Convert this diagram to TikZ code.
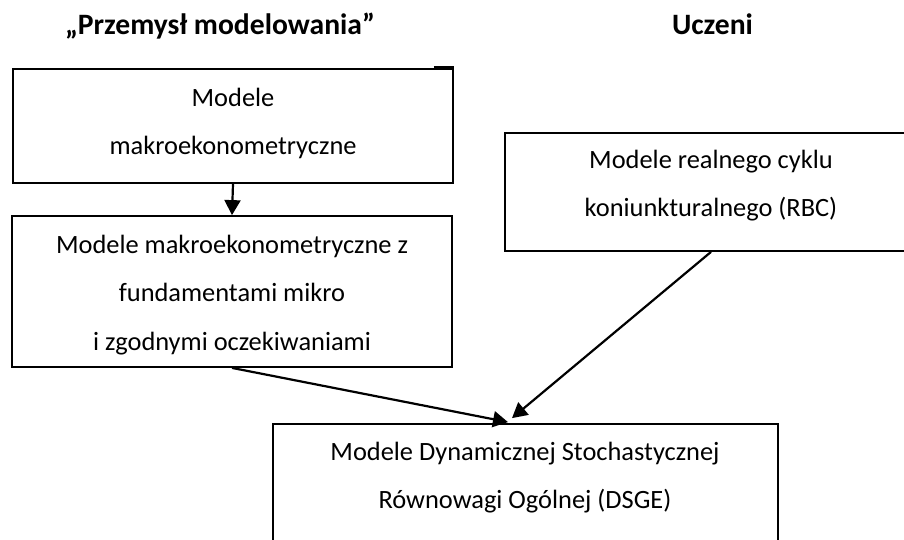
\documentclass[tikz,border=0pt]{standalone}
\usepackage{fontspec}
\setmainfont{Carlito}
\usetikzlibrary{arrows.meta,calc}

\begin{document}
\begin{tikzpicture}[x=1pt,y=-1pt,
  box/.style={draw, line width=1.8pt, rectangle, inner sep=0pt},
  txtline/.style={font=\fontsize{26.4}{30}\selectfont, anchor=base, inner sep=0pt},
  heading/.style={font=\fontsize{29.6}{33}\selectfont\bfseries, anchor=base, inner sep=0pt},
  link/.style={line width=2.2pt, -{Triangle[length=15pt,width=16pt]}}]

\useasboundingbox (0,0) rectangle (904,539);
\clip (0,0) rectangle (904,539);

% column headings
\node[heading] (h1) at (220,34) {„Przemysł modelowania”};
\node[heading] (h2) at (712.5,34) {Uczeni};

% boxes
\node[box, minimum width=440pt, minimum height=114pt] (m1) at (233,126) {};
\node[box, minimum width=440pt, minimum height=151pt] (m2) at (232,291.5) {};
\node[box, minimum width=412pt, minimum height=118pt] (m3) at (711,192) {};
\node[box, minimum width=505pt, minimum height=162pt] (m4) at (525.5,505) {};

% short heavier stroke at the top right corner of the first box
\draw[line width=2.4pt] ($(m1.north east)+(-20pt,0.8pt)$) -- ($(m1.north east)+(0pt,0.8pt)$);

% box texts
\node[txtline] (m1a) at (233,106) {Modele};
\node[txtline] (m1b) at (233,154) {makroekonometryczne};

\node[txtline] (m2a) at (232,253) {Modele makroekonometryczne z};
\node[txtline] (m2b) at (232,301.5) {fundamentami mikro};
\node[txtline] (m2c) at (232,350) {i zgodnymi oczekiwaniami};

\node[txtline] (m3a) at (711,168) {Modele realnego cyklu};
\node[txtline] (m3b) at (711,216.5) {koniunkturalnego (RBC)};

\node[txtline] (m4a) at (525,460) {Modele Dynamicznej Stochastycznej};
\node[txtline] (m4b) at (525,508) {Równowagi Ogólnej (DSGE)};

% arrow targets on the top edge of the DSGE box
\coordinate (tipL) at ($(m4.north)+(-17.5pt,1pt)$);
\coordinate (tipR) at ($(m4.north)+(-13.5pt,5pt)$);

% connectors
\draw[link] (m1.south) -- (m2.north);
\draw[link] (m2.south) -- (tipL);
\draw[link] (m3.south) -- (tipR);
\end{tikzpicture}
\end{document}
